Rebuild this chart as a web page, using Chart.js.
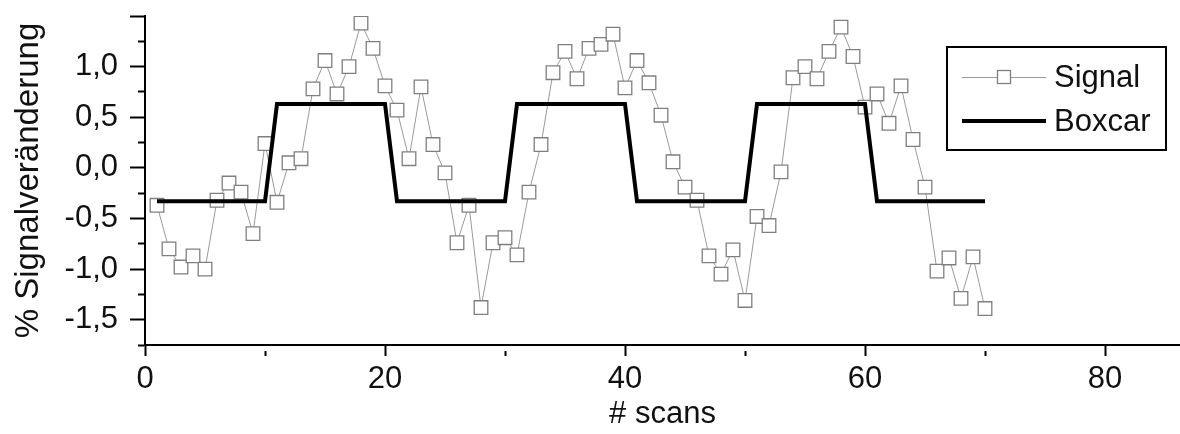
<!DOCTYPE html>
<html>
<head>
<meta charset="utf-8">
<script src="https://cdn.jsdelivr.net/npm/chart.js@4.4.1/dist/chart.umd.min.js"></script>
<style>
    html, body { margin: 0; padding: 0; background: #ffffff; }
    #contenedor { width: 1180px; height: 434px; }
</style>
</head>
<body>
<div id="contenedor"><canvas id="grafico" width="1180" height="434"></canvas></div>
<script>
// Werte
const scans = [
    1, 2, 3, 4, 5, 6, 7, 8, 9, 10,
    11, 12, 13, 14, 15, 16, 17, 18, 19, 20,
    21, 22, 23, 24, 25, 26, 27, 28, 29, 30,
    31, 32, 33, 34, 35, 36, 37, 38, 39, 40,
    41, 42, 43, 44, 45, 46, 47, 48, 49, 50,
    51, 52, 53, 54, 55, 56, 57, 58, 59, 60,
    61, 62, 63, 64, 65, 66, 67, 68, 69, 70
];
const signal = [
    -0.37, -0.80, -0.98, -0.87, -1.00, -0.32, -0.15, -0.24, -0.65, 0.24,
    -0.34, 0.05, 0.09, 0.78, 1.06, 0.73, 1.00, 1.43, 1.18, 0.81,
    0.57, 0.09, 0.80, 0.23, -0.05, -0.74, -0.37, -1.38, -0.74, -0.69,
    -0.86, -0.24, 0.23, 0.94, 1.15, 0.88, 1.18, 1.22, 1.32, 0.79,
    1.06, 0.84, 0.52, 0.06, -0.19, -0.32, -0.87, -1.05, -0.81, -1.31,
    -0.48, -0.57, -0.04, 0.89, 1.00, 0.88, 1.15, 1.39, 1.10, 0.60,
    0.73, 0.44, 0.81, 0.28, -0.19, -1.02, -0.89, -1.29, -0.88, -1.39
];
const boxcarX = [1, 10, 11, 20, 21, 30, 31, 40, 41, 50, 51, 60, 61, 70];
const boxcarY = [-0.33, -0.33, 0.63, 0.63, -0.33, -0.33, 0.63, 0.63, -0.33, -0.33, 0.63, 0.63, -0.33, -0.33];

const xTicks = [0, 10, 20, 30, 40, 50, 60, 70, 80];
const xLabels = [0, 20, 40, 60, 80];
const yTicks = [-1.75, -1.5, -1.25, -1, -0.75, -0.5, -0.25, 0, 0.25, 0.5, 0.75, 1, 1.25, 1.5];
const yLabels = [-1.5, -1, -0.5, 0, 0.5, 1];

const FUENTE = "'Liberation Sans', Arial, sans-serif";
const GRIS = "#7f7f7f";

// Muestras de la leyenda (linea + cuadrado / linea gruesa)
function muestraSignal() {
    const c = document.createElement("canvas");
    c.width = 84; c.height = 18;
    const g = c.getContext("2d");
    g.strokeStyle = "#9a9a9a";
    g.lineWidth = 1;
    g.beginPath(); g.moveTo(0, 9.5); g.lineTo(84, 9.5); g.stroke();
    g.fillStyle = "#ffffff";
    g.fillRect(35, 2, 14, 14);
    g.strokeStyle = GRIS;
    g.lineWidth = 1.3;
    g.strokeRect(35.5, 2.5, 13, 13);
    return c;
}

const leyendaBox = {
    id: "leyendaBox",
    afterDraw(chart) {
        const ctx = chart.ctx;
        const x0 = 947, y0 = 47, w = 219, h = 103;
        ctx.save();
        ctx.fillStyle = "#ffffff";
        ctx.fillRect(x0, y0, w, h);
        ctx.strokeStyle = "#000000";
        ctx.lineWidth = 2;
        ctx.strokeRect(x0, y0, w, h);

        const items = chart.data.datasets;
        const filas = [77, 121];
        ctx.font = "31px " + FUENTE;
        ctx.textBaseline = "middle";
        ctx.fillStyle = "#111111";
        items.forEach((ds, i) => {
            const y = filas[i];
            if (ds.label === "Signal") {
                ctx.drawImage(muestraSignal(), 962, y - 9);
            } else {
                ctx.strokeStyle = ds.borderColor;
                ctx.lineWidth = ds.borderWidth;
                ctx.beginPath(); ctx.moveTo(962, y); ctx.lineTo(1046, y); ctx.stroke();
            }
            ctx.fillText(ds.label, 1054, y + 1);
        });
        ctx.restore();
    }
};

const esMayorX = v => xLabels.includes(v);
const esMayorY = v => Math.abs(v * 2 - Math.round(v * 2)) < 1e-9;

new Chart(document.getElementById("grafico"), {
    type: "line",
    data: {
        datasets: [
            {
                label: "Signal",
                data: scans.map((s, i) => ({ x: s, y: signal[i] })),
                borderColor: "#9a9a9a",
                borderWidth: 1,
                pointStyle: "rect",
                pointRadius: 9.6,
                pointBorderColor: GRIS,
                pointBorderWidth: 1.3,
                pointBackgroundColor: "#ffffff",
                tension: 0,
                order: 1
            },
            {
                label: "Boxcar",
                data: boxcarX.map((s, i) => ({ x: s, y: boxcarY[i] })),
                borderColor: "#000000",
                borderWidth: 4,
                pointRadius: 0,
                tension: 0,
                order: 0
            }
        ]
    },
    options: {
        responsive: false,
        devicePixelRatio: 1,
        animation: false,
        layout: { autoPadding: false, padding: { top: 16, right: 0, bottom: 0, left: 0 } },
        plugins: {
            legend: { display: false },
            tooltip: { enabled: false }
        },
        scales: {
            x: {
                type: "linear",
                min: 0,
                max: 86.25,
                afterBuildTicks: s => { s.ticks = xTicks.map(v => ({ value: v })); },
                afterFit: s => { s.height = 89; s.paddingLeft = 0; s.paddingRight = 0; },
                border: { color: "#000000", width: 2 },
                grid: {
                    drawOnChartArea: false,
                    tickLength: 11,
                    tickColor: "#000000",
                    tickWidth: 2,
                    tickBorderDash: c => esMayorX(c.tick.value) ? [] : [0, 5, 6, 40]
                },
                ticks: {
                    padding: 5,
                    maxRotation: 0,
                    autoSkip: false,
                    color: "#111111",
                    font: { family: FUENTE, size: 31 },
                    callback: v => esMayorX(v) ? String(v) : ""
                },
                title: {
                    display: true,
                    text: "# scans",
                    color: "#111111",
                    padding: { top: 0, bottom: 1 },
                    font: { family: FUENTE, size: 31 }
                }
            },
            y: {
                min: -1.75,
                max: 1.5,
                afterBuildTicks: s => { s.ticks = yTicks.map(v => ({ value: v })); },
                afterFit: s => { s.width = 145; s.paddingTop = 0; s.paddingBottom = 0; },
                border: { color: "#000000", width: 2 },
                grid: {
                    drawOnChartArea: false,
                    tickLength: 15,
                    tickColor: "#000000",
                    tickWidth: 2,
                    tickBorderDash: c => esMayorY(c.tick.value) ? [] : [0, 8, 7, 40]
                },
                ticks: {
                    padding: 12,
                    autoSkip: false,
                    color: "#111111",
                    font: { family: FUENTE, size: 31 },
                    callback: v => yLabels.includes(v) ? v.toFixed(1).replace(".", ",") : ""
                },
                title: {
                    display: true,
                    text: "% Signalveränderung",
                    color: "#111111",
                    padding: { top: 9, bottom: 0 },
                    font: { family: FUENTE, size: 33 }
                }
            }
        }
    },
    plugins: [leyendaBox]
});
</script>
</body>
</html>
